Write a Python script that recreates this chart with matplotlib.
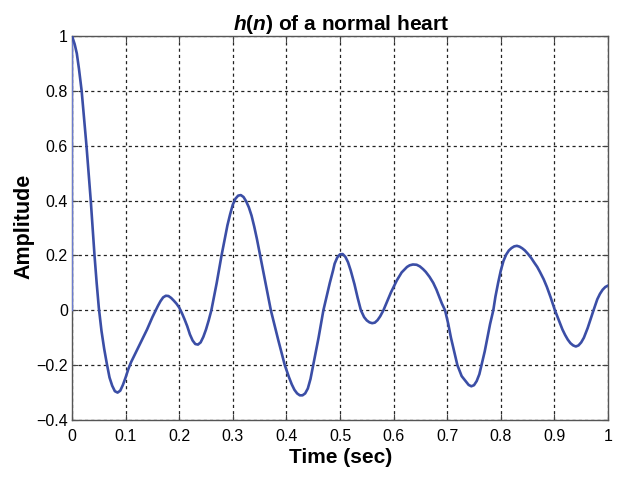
import matplotlib.pyplot as plt

plt.rcParams['font.family'] = ['Liberation Sans', 'DejaVu Sans']
plt.rcParams['mathtext.fontset'] = 'custom'
plt.rcParams['mathtext.it'] = 'Liberation Sans:italic:bold'
plt.rcParams['mathtext.rm'] = 'Liberation Sans:bold'

# h(n)
t = [0.0, 0.005, 0.009, 0.013, 0.018, 0.027, 0.035, 0.042, 0.046, 0.050,
     0.055, 0.060, 0.065, 0.070, 0.075, 0.080, 0.085, 0.090, 0.095, 0.100,
     0.105, 0.110, 0.120, 0.130, 0.140, 0.150, 0.160, 0.165, 0.170, 0.175,
     0.180, 0.185, 0.190, 0.195, 0.200, 0.205, 0.210, 0.215, 0.220, 0.225,
     0.230, 0.235, 0.240, 0.245, 0.250, 0.255, 0.260, 0.265, 0.270, 0.275,
     0.279, 0.285, 0.290, 0.295, 0.300, 0.305, 0.310, 0.315, 0.320, 0.325,
     0.330, 0.335, 0.340, 0.345, 0.351, 0.360, 0.371, 0.385, 0.397, 0.405,
     0.410, 0.415, 0.420, 0.425, 0.430, 0.435, 0.440, 0.445, 0.450, 0.460,
     0.469, 0.475, 0.481, 0.487, 0.490, 0.495, 0.500, 0.505, 0.510, 0.515,
     0.520, 0.527, 0.533, 0.539, 0.545, 0.550, 0.555, 0.560, 0.565, 0.570,
     0.575, 0.581, 0.595, 0.606, 0.615, 0.625, 0.630, 0.636, 0.643, 0.649,
     0.655, 0.660, 0.667, 0.674, 0.680, 0.685, 0.690, 0.696, 0.702, 0.707,
     0.713, 0.719, 0.727, 0.735, 0.740, 0.745, 0.750, 0.755, 0.760, 0.764,
     0.770, 0.775, 0.780, 0.786, 0.790, 0.795, 0.800, 0.805, 0.810, 0.815,
     0.820, 0.825, 0.830, 0.835, 0.840, 0.845, 0.851, 0.857, 0.862, 0.868,
     0.873, 0.880, 0.886, 0.893, 0.901, 0.908, 0.915, 0.920, 0.925, 0.930,
     0.935, 0.940, 0.945, 0.950, 0.955, 0.962, 0.967, 0.973, 0.980, 0.985,
     0.990, 0.995, 1.0]
h = [1.0, 0.97, 0.936, 0.88, 0.80, 0.60, 0.40, 0.20, 0.10, 0.01,
     -0.075, -0.14, -0.195, -0.245, -0.275, -0.295, -0.30, -0.293, -0.272, -0.245,
     -0.215, -0.19, -0.15, -0.11, -0.07, -0.025, 0.015, 0.033, 0.047, 0.053,
     0.052, 0.045, 0.035, 0.024, 0.01, -0.01, -0.033, -0.058, -0.088, -0.11,
     -0.123, -0.125, -0.117, -0.097, -0.07, -0.037, 0.0, 0.05, 0.10, 0.155,
     0.20, 0.26, 0.31, 0.35, 0.385, 0.407, 0.418, 0.42, 0.413, 0.397,
     0.375, 0.345, 0.305, 0.26, 0.20, 0.11, 0.0, -0.11, -0.20, -0.245,
     -0.27, -0.29, -0.303, -0.31, -0.31, -0.303, -0.285, -0.25, -0.20, -0.10,
     0.0, 0.05, 0.10, 0.145, 0.17, 0.193, 0.204, 0.205, 0.195, 0.175,
     0.145, 0.095, 0.045, 0.0, -0.025, -0.037, -0.044, -0.047, -0.045, -0.036,
     -0.022, 0.0, 0.065, 0.109, 0.138, 0.158, 0.164, 0.167, 0.166, 0.16,
     0.15, 0.14, 0.122, 0.10, 0.075, 0.05, 0.025, 0.0, -0.05, -0.10,
     -0.15, -0.20, -0.24, -0.26, -0.272, -0.277, -0.273, -0.258, -0.233, -0.20,
     -0.15, -0.10, -0.05, 0.0, 0.05, 0.10, 0.145, 0.18, 0.203, 0.218,
     0.227, 0.233, 0.235, 0.232, 0.226, 0.218, 0.205, 0.19, 0.175, 0.158,
     0.14, 0.113, 0.085, 0.047, 0.0, -0.035, -0.07, -0.09, -0.107, -0.12,
     -0.128, -0.132, -0.128, -0.117, -0.10, -0.065, -0.035, 0.0, 0.04, 0.06,
     0.075, 0.085, 0.09]

stem_t = [0.0, 0.0]
stem_h = [0.0, 1.0]

xticks = [0, 0.1, 0.2, 0.3, 0.4, 0.5, 0.6, 0.7, 0.8, 0.9, 1]
xlabels = ['0', '0.1', '0.2', '0.3', '0.4', '0.5', '0.6', '0.7', '0.8', '0.9', '1']
yticks = [-0.4, -0.2, 0, 0.2, 0.4, 0.6, 0.8, 1]
ylabels = ['\u22120.4', '\u22120.2', '0', '0.2', '0.4', '0.6', '0.8', '1']

fig = plt.figure(figsize=(6.25, 4.83), dpi=100)
ax = fig.add_axes([0.1152, 0.1304, 0.8576, 0.7951])

ax.plot(stem_t, stem_h, color='#6a7bd0', lw=1.0, zorder=3)
ax.plot(t, h, color='#3b4ea6', lw=1.9, zorder=4)

ax.set_xlim(0, 1)
ax.set_ylim(-0.4, 1)
ax.set_xticks(xticks)
ax.set_xticklabels(xlabels)
ax.set_yticks(yticks)
ax.set_yticklabels(ylabels)
ax.tick_params(direction='in', top=True, right=True, labelsize=11.5,
               length=4, color='#444444')
ax.tick_params(axis='x', pad=6.5)
ax.tick_params(axis='y', pad=3)
ax.grid(True, color='#222222', lw=0.9, linestyle=(0, (2.5, 2.5)))
for s in ax.spines.values():
    s.set_color('#555555')
    s.set_linewidth(1.0)

fig.text(0.5456, 0.0414, 'Time (sec)', ha='center', va='baseline',
         fontsize=15, fontweight='bold')
fig.text(0.0384, 0.531, 'Amplitude', ha='center', va='center', rotation=90,
         fontsize=15.5, fontweight='bold')
fig.text(0.5456, 0.938, r'$h$(' + r'$n$) of a normal heart', ha='center',
         va='baseline', fontsize=15, fontweight='bold')

fig.savefig('out.png', dpi=100)
